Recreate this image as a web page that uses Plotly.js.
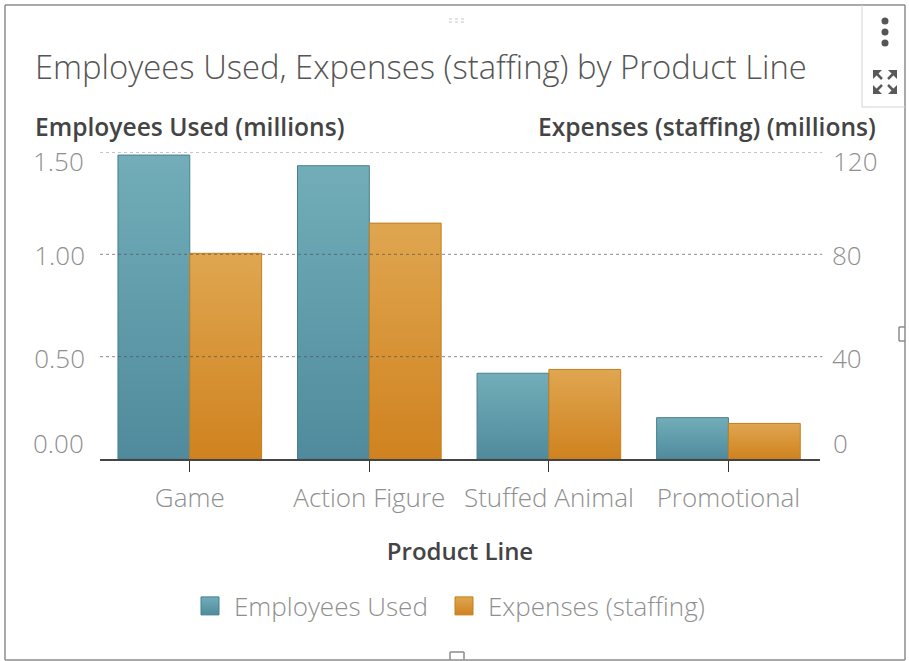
<!DOCTYPE html>
<html>
<head>
<meta charset="utf-8">
<script src="https://cdn.plot.ly/plotly-3.0.1.min.js"></script>
<style>html,body{margin:0;padding:0;background:#fff}</style>
</head>
<body>
<div id="chart" style="width:909px;height:661px"></div>
<script>
var categories = ["Game", "Action Figure", "Stuffed Animal", "Promotional"];
var employeesUsed = [1.485, 1.433, 0.419, 0.202];
var expensesStaffing = [80.4, 92.2, 35, 13.9];
var leftTicks = [0, 0.5, 1, 1.5];
var leftTickText = ["0.00", "0.50", "1.00", "1.50"];
var rightTicks = [0, 40, 80, 120];
var rightTickText = ["0", "40", "80", "120"];

var W = 909, H = 661, L = 100, R = 820, T = 152, B = 459;
function px(v) { return (v - L) / (R - L); }
function py(v) { return (B - v) / (B - T); }

var FONT = '"Open Sans", Lato, sans-serif';
var GREY = '#8f8f8f', TITLE = '#555', BOLD = '#444', FRAME = '#8c8c8c';
var TICK = { family: FONT, size: 26, color: GREY, weight: 300 };
var HEAD = { family: FONT, size: 24.6, color: BOLD, weight: 600 };

var traces = [
  { type: 'bar', name: 'Employees Used', x: categories, y: employeesUsed, yaxis: 'y',
    width: 0.4, offset: -0.4, marker: { color: '#5f9bab', line: { color: '#47808f', width: 1 } }, hoverinfo: 'x+y' },
  { type: 'bar', name: 'Expenses (staffing)', x: categories, y: expensesStaffing, yaxis: 'y2',
    width: 0.4, offset: 0, marker: { color: '#d9953a', line: { color: '#c57f1f', width: 1 } }, hoverinfo: 'x+y' }
];

function line(x0, y0, x1, y1, color, width, dash) {
  return { type: 'line', xref: 'paper', yref: 'paper', x0: px(x0), x1: px(x1), y0: py(y0), y1: py(y1),
           line: { color: color, width: width, dash: dash || 'solid' }, layer: 'above' };
}
function circle(cx, cy, r, color) {
  return { type: 'circle', xref: 'paper', yref: 'paper', x0: px(cx - r), x1: px(cx + r), y0: py(cy - r), y1: py(cy + r),
           fillcolor: color, line: { width: 0 }, layer: 'above' };
}
function arrow(cx, cy, dx, dy) {
  var a = 9;
  return { type: 'path', xref: 'paper', yref: 'paper',
    path: 'M' + px(cx) + ',' + py(cy) + 'L' + px(cx + dx * a) + ',' + py(cy) + 'L' + px(cx) + ',' + py(cy + dy * a) + 'Z',
    fillcolor: '#5a5a5a', line: { width: 0 }, layer: 'above' };
}
var shapes = [
  line(5, 5, 905, 5, FRAME, 1.5), line(5, 5, 5, 660, FRAME, 1.5),
  line(905, 5, 905, 660, FRAME, 1.5), line(5, 660, 905, 660, FRAME, 1.5),
  line(862, 5, 862, 107, '#d4d4d4', 1), line(862, 107, 905, 107, '#d4d4d4', 1),
  circle(885, 21, 3.5, '#555'), circle(885, 32, 3.5, '#555'), circle(885, 43, 3.5, '#555'),
  arrow(873, 70, 1, 1), line(876, 73, 882, 79, '#5a5a5a', 2.5),
  arrow(897, 70, -1, 1), line(894, 73, 888, 79, '#5a5a5a', 2.5),
  arrow(873, 94, 1, -1), line(876, 91, 882, 85, '#5a5a5a', 2.5),
  arrow(897, 94, -1, -1), line(894, 91, 888, 85, '#5a5a5a', 2.5),
  line(450, 660, 450, 652, FRAME, 1.5), line(450, 652, 464, 652, FRAME, 1.5), line(464, 652, 464, 660, FRAME, 1.5),
  line(905, 327, 899, 327, FRAME, 1.5), line(899, 327, 899, 341, FRAME, 1.5), line(899, 341, 905, 341, FRAME, 1.5),
  line(449, 19, 465, 19, '#c8c8c8', 1, 'dot'), line(449, 22, 465, 22, '#c8c8c8', 1, 'dot')
];
leftTicks.slice(1).forEach(function (v) {
  shapes.push({ type: 'line', xref: 'paper', yref: 'y', x0: 0, x1: 1.003, y0: v, y1: v,
                line: { color: 'rgba(80,80,80,0.65)', width: 1, dash: 'dot' }, layer: 'above' });
});

function note(text, x, y, anchor) {
  return { text: text, xref: 'paper', yref: 'paper', x: px(x), y: py(y),
           xanchor: anchor, yanchor: 'middle', showarrow: false, font: HEAD };
}
function endTick(text, value, axis, x, anchor, yshift) {
  return { text: text, xref: 'paper', yref: axis, x: px(x), y: value, yshift: yshift, xanchor: anchor, yanchor: 'middle',
           showarrow: false, font: TICK };
}
var annotations = [
  note('Employees Used (millions)', 33, 127, 'left'),
  note('Expenses (staffing) (millions)', 878, 127, 'right'),
  endTick(leftTickText[3], leftTicks[3], 'y', 86, 'right', -9),
  endTick(leftTickText[0], leftTicks[0], 'y', 86, 'right', 16),
  endTick(rightTickText[3], rightTicks[3], 'y2', 831, 'left', -9),
  endTick(rightTickText[0], rightTicks[0], 'y2', 831, 'left', 16)
];

var layout = {
  width: W, height: H, autosize: false,
  margin: { l: L, r: W - R, t: T, b: H - B, pad: 0 },
  paper_bgcolor: '#fff', plot_bgcolor: '#fff',
  font: { family: FONT, color: GREY },
  title: { text: 'Employees Used, Expenses (staffing) by Product Line', xref: 'container', yref: 'container',
           x: 35 / W, xanchor: 'left', y: 1 - 68 / H, yanchor: 'middle', font: { family: FONT, size: 32.8, color: TITLE, weight: 300 } },
  barmode: 'overlay',
  showlegend: true,
  legend: { orientation: 'h', x: px(194), y: py(606), xanchor: 'left', yanchor: 'middle', entrywidthmode: 'pixels', entrywidth: 209,
            font: { family: FONT, size: 26, color: GREY, weight: 300 }, bgcolor: 'rgba(0,0,0,0)', traceorder: 'normal' },
  xaxis: { type: 'category', categoryorder: 'array', categoryarray: categories, range: [-0.5, 3.51], showgrid: false, zeroline: false,
           showline: true, linecolor: '#444', linewidth: 2, ticks: 'outside', ticklen: 11, tickcolor: '#333', tickwidth: 1,
           ticklabelstandoff: 4, tickfont: TICK,
           title: { text: 'Product Line', standoff: 29, font: { family: FONT, size: 24, color: BOLD, weight: 600 } } },
  yaxis: { range: [0, 1.5], tickvals: leftTicks.slice(1, 3), ticktext: leftTickText.slice(1, 3), showgrid: false, zeroline: false,
           showline: false, ticks: '', ticklabelstandoff: 14, ticklabelshift: 2, tickfont: TICK },
  yaxis2: { range: [0, 120], overlaying: 'y', side: 'right', tickvals: rightTicks.slice(1, 3), ticktext: rightTickText.slice(1, 3),
            showgrid: false, zeroline: false, showline: false, ticks: '', ticklabelstandoff: 11, ticklabelshift: 2, tickfont: TICK },
  shapes: shapes,
  annotations: annotations
};

function addGradient(svg, id, top, bottom) {
  var NS = 'http://www.w3.org/2000/svg';
  var g = document.createElementNS(NS, 'linearGradient');
  g.setAttribute('id', id);
  g.setAttribute('x1', '0'); g.setAttribute('y1', '0'); g.setAttribute('x2', '0'); g.setAttribute('y2', '1');
  [[0, top], [1, bottom]].forEach(function (s) {
    var st = document.createElementNS(NS, 'stop');
    st.setAttribute('offset', s[0]); st.setAttribute('stop-color', s[1]);
    g.appendChild(st);
  });
  svg.querySelector('defs').appendChild(g);
}

Plotly.newPlot('chart', traces, layout, { displayModeBar: false, responsive: false }).then(function (gd) {
  var svg = gd.querySelector('svg.main-svg');
  addGradient(svg, 'gradTeal', '#72adb9', '#4f8b9c');
  addGradient(svg, 'gradOrange', '#dfa650', '#d0821f');
  var ids = ['gradTeal', 'gradOrange'];
  gd.querySelectorAll('.barlayer .trace').forEach(function (t, i) {
    t.querySelectorAll('path').forEach(function (p) { p.style.fill = 'url(#' + ids[i] + ')'; });
  });
  gd.querySelectorAll('.legend .traces').forEach(function (t, i) {
    t.querySelectorAll('.legendpoints path').forEach(function (p) {
      p.setAttribute('d', 'M5,9H-13V-9H5Z');
      p.style.fill = 'url(#' + ids[i] + ')';
    });
  });
  // the fixed entry width clips the last legend label: drop the clip
  gd.querySelectorAll('.legend, .legend .scrollbox, .legend .groups, .legend .traces').forEach(function (n) {
    n.removeAttribute('clip-path');
    n.style.clipPath = 'none';
  });
});
</script>
</body>
</html>
